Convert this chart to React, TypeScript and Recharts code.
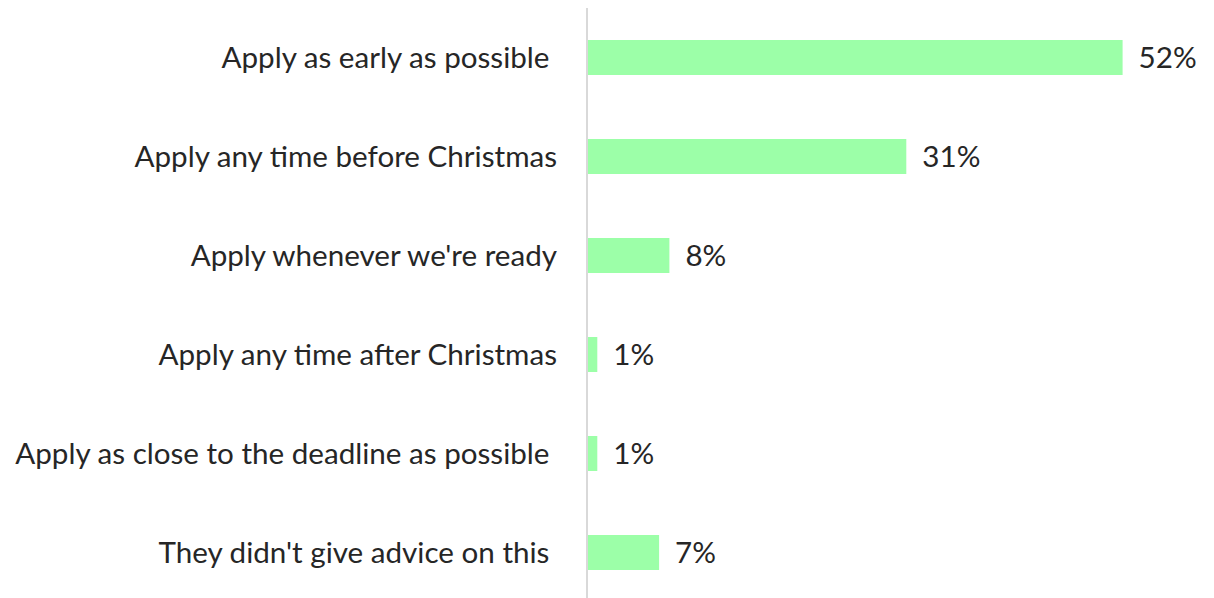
import React from 'react';
import { BarChart, Bar, XAxis, YAxis, LabelList } from 'recharts';

const categories = [
  'Apply as early as possible ',
  'Apply any time before Christmas',
  "Apply whenever we're ready",
  'Apply any time after Christmas',
  'Apply as close to the deadline as possible ',
  "They didn't give advice on this ",
];
const values = [52, 31, 8, 1, 1, 7];

const data = categories.map((c, i) => ({ name: c, value: values[i] }));

const FONT = 'Lato, "Open Sans", sans-serif';
const TEXT = '#262626';
const SIZE = 29.6;

const Tick = (props: any) => {
  const { x, y, payload } = props;
  return (
    <text
      x={x}
      y={y}
      dy="0.355em"
      textAnchor="end"
      fill={TEXT}
      fontFamily={FONT}
      fontSize={SIZE}
      xmlSpace="preserve"
      style={{ whiteSpace: 'pre' }}
    >
      {payload.value}
    </text>
  );
};

export default function App() {
  return (
    <BarChart
      width={1197}
      height={600}
      data={data}
      layout="vertical"
      margin={{ top: 0, right: 0, bottom: 6, left: 0 }}
      barCategoryGap={32}
    >
      <XAxis type="number" domain={[0, 60]} hide />
      <YAxis
        type="category"
        dataKey="name"
        width={579}
        axisLine={{ stroke: '#d9d9d9', strokeWidth: 2 }}
        tickLine={false}
        tickSize={0}
        tickMargin={30}
        tick={<Tick />}
        interval={0}
      />
      <Bar dataKey="value" fill="#9cffa8" isAnimationActive={false}>
        <LabelList
          dataKey="value"
          position="right"
          offset={16}
          formatter={(v: any) => `${v}%`}
          fill={TEXT}
          fontFamily={FONT}
          fontSize={SIZE}
        />
      </Bar>
    </BarChart>
  );
}
